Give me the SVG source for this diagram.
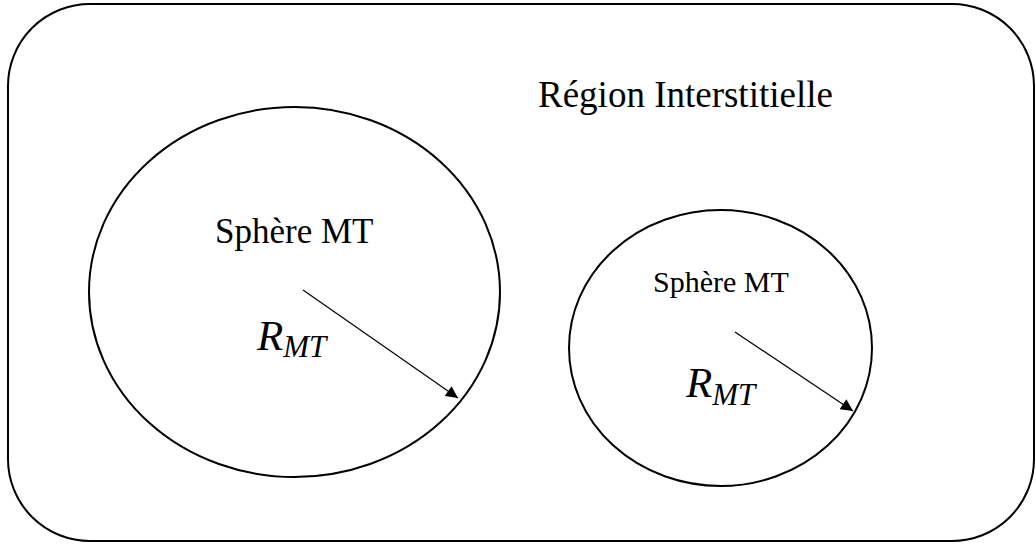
<svg xmlns="http://www.w3.org/2000/svg" width="1036" height="544" viewBox="0 0 1036 544">
<style>
.shape{fill:none;stroke:#000;stroke-width:2}
.t{font-family:"Liberation Serif","Times New Roman",serif;fill:#000}
.m{font-family:"Liberation Serif","Times New Roman",serif;font-style:italic;fill:#000}
.con{stroke:#000;stroke-width:1.2;fill:none}
</style>
<defs>
<marker id="ah" viewBox="0 0 10 10" refX="10" refY="5" markerWidth="14" markerHeight="12" markerUnits="userSpaceOnUse" orient="auto">
<path d="M0,0 L10,5 L0,10 z" fill="#000"/>
</marker>
</defs>
<rect width="1036" height="544" fill="#fff"/>
<g id="region">
<rect class="shape" x="8" y="4" width="1026" height="537" rx="82" ry="82"/>
<text class="t" x="538" y="107" font-size="37">Région Interstitielle</text>
</g>
<g id="sphere1">
<ellipse class="shape" cx="294.5" cy="292" rx="205.5" ry="185"/>
<text class="t" x="215" y="243" font-size="35">Sphère MT</text>
<text class="m" x="257" y="350" font-size="43">R<tspan font-size="31" dy="7">MT</tspan></text>
</g>
<g id="sphere2">
<ellipse class="shape" cx="720.5" cy="348" rx="151.5" ry="138"/>
<text class="t" x="653" y="292" font-size="30">Sphère MT</text>
<text class="m" x="686" y="397" font-size="43">R<tspan font-size="31" dy="8">MT</tspan></text>
</g>
<g id="connectors">
<line class="con" x1="303" y1="290" x2="458" y2="398" marker-end="url(#ah)"/>
<line class="con" x1="735" y1="332" x2="853" y2="411" marker-end="url(#ah)"/>
</g>
</svg>
